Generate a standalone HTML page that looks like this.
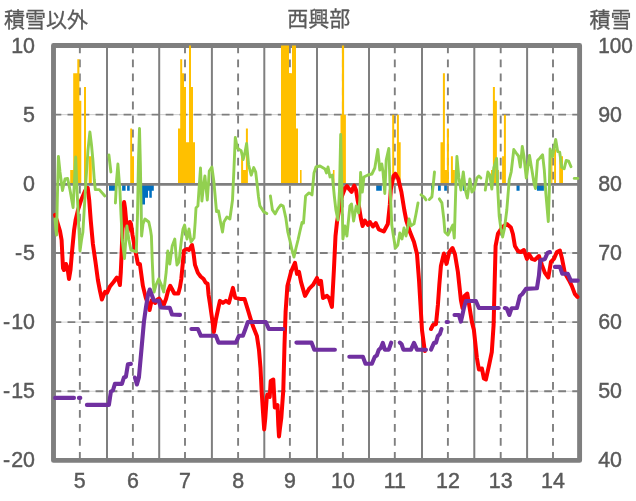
<!DOCTYPE html>
<html lang="ja"><head><meta charset="utf-8"><title>西興部</title>
<style>html,body{margin:0;padding:0;background:#fff}body{width:636px;height:501px;overflow:hidden}svg{display:block}g.t{filter:grayscale(1)}text{font-family:"Liberation Sans","Noto Sans CJK JP",sans-serif;fill:#595959}.n{font-size:22.4px;stroke:#595959;stroke-width:0.45px}.j{font-size:21px;stroke:#595959;stroke-width:0.3px}</style></head><body>
<svg width="636" height="501" viewBox="0 0 636 501">
<rect width="636" height="501" fill="#fff"/>
<rect x="53.5" y="45.5" width="526.1" height="414.9" fill="none" stroke="#7f7f7f" stroke-width="4.9" stroke-linejoin="round"/>
<line x1="55.9" y1="114.65" x2="577.2" y2="114.65" stroke="#cfcfcf" stroke-width="1"/>
<line x1="55.9" y1="183.80" x2="577.2" y2="183.80" stroke="#cfcfcf" stroke-width="1"/>
<line x1="55.9" y1="252.95" x2="577.2" y2="252.95" stroke="#cfcfcf" stroke-width="1"/>
<line x1="55.9" y1="322.10" x2="577.2" y2="322.10" stroke="#cfcfcf" stroke-width="1"/>
<line x1="55.9" y1="391.25" x2="577.2" y2="391.25" stroke="#cfcfcf" stroke-width="1"/>
<line x1="53.5" y1="114.65" x2="579.6" y2="114.65" stroke="#7f7f7f" stroke-width="1.9" stroke-dasharray="7.8 6.22"/>
<line x1="53.5" y1="252.95" x2="579.6" y2="252.95" stroke="#7f7f7f" stroke-width="1.9" stroke-dasharray="7.8 6.22"/>
<line x1="53.5" y1="322.10" x2="579.6" y2="322.10" stroke="#7f7f7f" stroke-width="1.9" stroke-dasharray="7.8 6.22"/>
<line x1="53.5" y1="391.25" x2="579.6" y2="391.25" stroke="#7f7f7f" stroke-width="1.9" stroke-dasharray="7.8 6.22"/>
<line x1="107.00" y1="45.5" x2="107.00" y2="460.4" stroke="#7f7f7f" stroke-width="2"/>
<line x1="159.20" y1="45.5" x2="159.20" y2="460.4" stroke="#7f7f7f" stroke-width="2"/>
<line x1="211.90" y1="45.5" x2="211.90" y2="460.4" stroke="#7f7f7f" stroke-width="2"/>
<line x1="264.30" y1="45.5" x2="264.30" y2="460.4" stroke="#7f7f7f" stroke-width="2"/>
<line x1="317.00" y1="45.5" x2="317.00" y2="460.4" stroke="#7f7f7f" stroke-width="2"/>
<line x1="369.00" y1="45.5" x2="369.00" y2="460.4" stroke="#7f7f7f" stroke-width="2"/>
<line x1="422.00" y1="45.5" x2="422.00" y2="460.4" stroke="#7f7f7f" stroke-width="2"/>
<line x1="474.30" y1="45.5" x2="474.30" y2="460.4" stroke="#7f7f7f" stroke-width="2"/>
<line x1="527.10" y1="45.5" x2="527.10" y2="460.4" stroke="#7f7f7f" stroke-width="2"/>
<line x1="79.85" y1="45.5" x2="79.85" y2="460.4" stroke="#7f7f7f" stroke-width="1.9" stroke-dasharray="7.8 6.22"/>
<line x1="132.90" y1="45.5" x2="132.90" y2="460.4" stroke="#7f7f7f" stroke-width="1.9" stroke-dasharray="7.8 6.22"/>
<line x1="185.00" y1="45.5" x2="185.00" y2="460.4" stroke="#7f7f7f" stroke-width="1.9" stroke-dasharray="7.8 6.22"/>
<line x1="238.10" y1="45.5" x2="238.10" y2="460.4" stroke="#7f7f7f" stroke-width="1.9" stroke-dasharray="7.8 6.22"/>
<line x1="289.90" y1="45.5" x2="289.90" y2="460.4" stroke="#7f7f7f" stroke-width="1.9" stroke-dasharray="7.8 6.22"/>
<line x1="342.90" y1="45.5" x2="342.90" y2="460.4" stroke="#7f7f7f" stroke-width="1.9" stroke-dasharray="7.8 6.22"/>
<line x1="394.80" y1="45.5" x2="394.80" y2="460.4" stroke="#7f7f7f" stroke-width="1.9" stroke-dasharray="7.8 6.22"/>
<line x1="447.90" y1="45.5" x2="447.90" y2="460.4" stroke="#7f7f7f" stroke-width="1.9" stroke-dasharray="7.8 6.22"/>
<line x1="500.70" y1="45.5" x2="500.70" y2="460.4" stroke="#7f7f7f" stroke-width="1.9" stroke-dasharray="7.8 6.22"/>
<line x1="553.00" y1="45.5" x2="553.00" y2="460.4" stroke="#7f7f7f" stroke-width="1.9" stroke-dasharray="7.8 6.22"/>
<path d="M70.2,183.80 L70.2,169.97 L73.2,169.97 L73.2,73.16 L77.3,73.16 L77.3,59.33 L79.4,59.33 L79.4,100.82 L81.3,100.82 L81.3,183.80 Z M84.0,183.80 L84.0,86.99 L86.0,86.99 L86.0,183.80 Z M88.7,183.80 L88.7,156.14 L91.8,156.14 L91.8,183.80 Z M130.2,183.80 L130.2,128.48 L132.1,128.48 L132.1,156.14 L134.0,156.14 L134.0,183.80 Z M178.0,183.80 L178.0,128.48 L180.2,128.48 L180.2,59.33 L182.2,59.33 L182.2,73.16 L184.0,73.16 L184.0,86.99 L186.0,86.99 L186.0,142.31 L189.0,142.31 L189.0,45.50 L191.0,45.50 L191.0,86.99 L193.0,86.99 L193.0,142.31 L195.0,142.31 L195.0,183.80 Z M241.1,183.80 L241.1,156.14 L243.1,156.14 L243.1,169.97 L245.9,169.97 L245.9,128.48 L247.9,128.48 L247.9,183.80 Z M281.0,183.80 L281.0,45.50 L289.0,45.50 L289.0,73.16 L292.0,73.16 L292.0,45.50 L296.0,45.50 L296.0,128.48 L298.0,128.48 L298.0,183.80 Z M300.0,183.80 L300.0,169.97 L301.6,169.97 L301.6,183.80 Z M332.9,183.80 L332.9,169.97 L334.5,169.97 L334.5,183.80 Z M340.5,183.80 L340.5,114.65 L341.9,114.65 L341.9,45.50 L344.1,45.50 L344.1,114.65 L345.9,114.65 L345.9,183.80 Z M392.2,183.80 L392.2,114.65 L394.2,114.65 L394.2,183.80 Z M396.9,183.80 L396.9,114.65 L398.9,114.65 L398.9,142.31 L400.7,142.31 L400.7,183.80 Z M440.5,183.80 L440.5,142.31 L442.9,142.31 L442.9,73.16 L444.9,73.16 L444.9,169.97 L446.9,169.97 L446.9,128.48 L448.9,128.48 L448.9,183.80 Z M450.9,183.80 L450.9,156.14 L452.9,156.14 L452.9,169.97 L454.9,169.97 L454.9,183.80 Z M491.0,183.80 L491.0,169.97 L492.9,169.97 L492.9,86.99 L494.9,86.99 L494.9,100.82 L496.9,100.82 L496.9,169.97 L498.9,169.97 L498.9,183.80 Z M502.1,183.80 L502.1,156.14 L503.9,156.14 L503.9,114.65 L505.9,114.65 L505.9,183.80 Z M551.2,183.80 L551.2,156.14 L552.4,156.14 L552.4,183.80 Z M554.1,183.80 L554.1,149.22 L556.0,149.22 L556.0,183.80 Z M559.2,183.80 L559.2,156.14 L563.0,156.14 L563.0,183.80 Z" fill="#ffc000"/>
<path d="M109.0,183.80 L109.0,190.72 L115.1,190.72 L115.1,183.80 Z M122.1,183.80 L122.1,190.72 L125.6,190.72 L125.6,183.80 Z M127.1,183.80 L127.1,190.72 L129.7,190.72 L129.7,183.80 Z M141.2,183.80 L141.2,218.38 L142.2,218.38 L142.2,204.54 L145.0,204.54 L145.0,197.63 L148.0,197.63 L148.0,190.72 L149.3,190.72 L149.3,197.63 L151.8,197.63 L151.8,190.72 L153.8,190.72 L153.8,183.80 Z M376.2,183.80 L376.2,190.72 L381.8,190.72 L381.8,183.80 Z M431.0,183.80 L431.0,190.72 L433.0,190.72 L433.0,183.80 Z M438.0,183.80 L438.0,190.72 L440.8,190.72 L440.8,183.80 Z M444.2,183.80 L444.2,190.72 L446.9,190.72 L446.9,183.80 Z M462.9,183.80 L462.9,190.72 L464.9,190.72 L464.9,183.80 Z M516.5,183.80 L516.5,190.72 L519.6,190.72 L519.6,183.80 Z M536.9,183.80 L536.9,190.72 L543.9,190.72 L543.9,183.80 Z" fill="#0070c0"/>
<line x1="53.5" y1="184.4" x2="579.6" y2="184.4" stroke="#7f7f7f" stroke-width="2.6"/>
<polyline points="55.0,214.8 57.0,221.0 60.0,231.0 61.6,240.0 63.0,268.0 64.0,270.0 66.0,264.0 67.5,268.0 69.0,279.0 70.5,270.0 72.0,252.0 74.1,230.0 75.6,220.0 78.0,210.0 81.2,200.0 85.2,190.5 87.7,187.8 89.2,200.0 90.7,220.0 92.9,244.0 95.5,262.0 97.9,280.0 100.0,291.0 101.9,299.5 103.3,296.0 105.1,291.8 107.1,292.6 110.1,286.2 113.6,282.0 116.9,277.5 118.5,280.0 119.9,285.0 120.8,272.0 121.5,256.0 122.5,230.0 123.5,208.0 124.1,202.0 125.0,208.0 126.5,225.0 127.5,232.0 128.5,226.0 129.9,222.0 131.0,224.0 132.5,235.0 134.9,248.0 137.9,263.9 139.9,263.9 142.9,285.9 145.8,297.9 148.0,304.0 149.6,310.0 151.6,300.5 153.0,299.5 155.1,303.0 157.5,299.5 159.2,298.6 161.5,302.0 163.7,305.0 166.0,299.0 168.0,291.0 170.2,285.8 172.0,289.0 174.3,293.6 178.3,293.6 180.0,287.0 181.3,279.0 184.0,250.5 187.0,249.0 189.0,250.0 192.0,245.0 193.5,253.0 195.0,264.9 197.9,272.9 200.6,276.5 203.6,279.0 205.6,282.6 207.6,283.8 208.6,295.0 210.0,304.0 212.0,318.0 213.9,332.0 216.0,319.0 217.9,310.0 219.9,300.9 222.9,302.9 225.9,300.9 228.9,302.9 232.9,287.9 235.3,297.9 239.9,298.9 244.5,298.9 247.9,309.9 250.9,319.8 252.9,326.0 256.9,336.0 259.0,350.0 260.5,368.0 261.7,392.0 263.0,412.0 264.2,429.4 265.3,418.0 266.7,398.0 267.4,394.5 269.7,397.0 270.7,381.0 273.3,379.5 274.8,407.5 277.5,405.0 278.3,425.0 279.0,436.4 280.0,428.0 281.3,418.0 283.3,390.0 284.5,345.0 285.6,312.0 287.4,285.9 291.0,271.9 295.0,262.9 297.0,273.9 299.0,271.9 301.0,281.9 305.0,295.9 309.0,288.9 313.0,284.9 317.0,277.9 319.0,283.9 321.0,280.9 323.0,297.9 327.0,295.9 329.0,298.0 331.9,306.9 333.9,270.0 335.5,236.0 337.0,222.0 339.9,206.0 342.0,196.0 344.9,188.5 346.9,186.0 349.5,189.5 351.6,191.8 353.0,188.0 354.2,185.5 356.0,190.0 357.6,200.0 359.4,209.0 361.0,219.0 362.6,226.0 364.9,220.5 367.9,225.0 369.9,222.0 372.9,226.5 375.8,223.0 378.8,229.5 383.8,231.5 387.8,224.0 389.8,205.0 390.8,190.0 393.4,176.0 395.4,173.8 398.3,179.0 401.4,192.0 404.3,210.0 406.4,221.0 410.0,232.0 414.0,242.0 417.0,254.0 419.0,280.0 420.5,305.0 422.0,330.0 424.8,351.0" fill="none" stroke="#ff0000" stroke-width="4.0" stroke-linejoin="round" stroke-linecap="round"/>
<polyline points="431.0,329.0 433.0,325.0 436.0,324.0 437.9,305.0 439.3,285.0 440.9,266.0 443.9,253.5 446.5,263.9 449.3,252.0 452.5,248.0 454.9,254.0 457.9,272.0 460.9,300.0 462.5,308.0 464.5,296.0 467.3,293.5 469.3,306.0 471.9,322.0 473.9,330.0 476.9,358.0 478.9,369.5 481.9,368.5 483.9,378.5 485.9,379.5 488.9,366.0 491.8,352.0 493.6,325.0 494.6,285.0 495.6,246.0 498.0,233.5 502.0,227.5 506.9,224.0 510.9,227.5 512.9,234.0 514.9,246.0 517.9,251.0 520.9,252.0 523.9,250.0 526.9,258.9 528.9,254.0 531.9,258.9 534.9,259.9 538.9,256.0 541.9,264.9 544.9,272.9 548.3,277.5 550.9,262.0 553.9,258.9 556.9,252.0 559.9,250.5 561.9,258.0 564.8,272.9 568.8,279.9 571.8,285.9 574.8,293.9 577.4,296.9" fill="none" stroke="#ff0000" stroke-width="4.0" stroke-linejoin="round" stroke-linecap="round"/>
<polyline points="55.0,219.0 55.8,229.0 56.6,235.0 57.3,200.0 58.4,156.5 60.0,172.0 62.5,190.5 65.0,179.0 67.6,178.5 70.0,190.0 73.1,207.5 74.5,180.0 75.7,157.0 76.8,185.0 78.0,210.0 80.0,251.0 81.5,240.0 82.9,232.0 84.5,205.0 86.0,180.0 88.0,150.0 89.9,132.0 91.5,145.0 92.9,160.0 94.3,180.0 95.3,189.5 99.3,189.6 104.9,196.0" fill="none" stroke="#92d050" stroke-width="2.9" stroke-linejoin="round" stroke-linecap="round"/>
<polyline points="108.9,155.0 110.9,172.0" fill="none" stroke="#92d050" stroke-width="2.9" stroke-linejoin="round" stroke-linecap="round"/>
<polyline points="115.4,203.0 116.6,180.0 117.9,164.0 119.9,190.0 121.0,215.0 122.3,240.0 124.5,258.5 125.8,240.0 126.9,226.0 128.9,240.0 130.9,250.0 133.9,251.0 136.3,252.0 137.5,215.0 138.5,160.0 139.5,128.5 140.4,165.0 141.2,215.0 141.6,236.0 143.0,224.0 144.9,219.0 148.8,222.0 150.5,230.0 151.4,236.0 152.3,262.0 153.2,282.0 154.1,292.0 156.0,285.0 158.7,278.8 161.0,284.0 163.7,292.0 165.0,282.0 166.2,272.0 167.8,251.0 169.8,264.0 172.2,246.0 174.8,239.0 176.0,255.0 177.0,265.0 179.0,262.0 180.3,250.0 181.4,240.0 183.0,229.0 184.6,225.0 187.0,239.0 189.0,229.0 191.0,242.0 194.0,238.0 195.2,222.0 196.0,208.0 197.9,205.9 199.3,185.0 200.5,168.0 201.9,201.0 203.5,186.0 204.9,176.0 207.3,200.0 208.5,183.0 209.3,171.0 211.9,167.0 213.9,182.0 216.5,211.5 218.5,211.0 220.5,222.0 222.5,232.0 223.9,222.0 226.9,217.0 229.9,219.0 232.5,200.0 233.9,170.0 235.3,137.5 237.3,148.0 239.9,150.0 241.1,150.5 243.1,159.5 244.9,153.0 246.6,143.5 248.6,165.0 251.2,175.2 253.7,167.6 255.7,172.2 257.2,185.2 258.5,197.0 259.9,205.9 263.8,211.9 266.8,213.5" fill="none" stroke="#92d050" stroke-width="2.9" stroke-linejoin="round" stroke-linecap="round"/>
<polyline points="270.4,195.9 272.4,209.9 275.2,213.9 277.8,208.9 280.8,204.9 283.2,206.0 285.8,217.9 287.8,232.0 290.0,241.0 292.0,250.0 294.0,257.0 296.0,248.0 298.0,240.0 300.0,231.0 302.0,222.5 303.5,223.0 305.6,196.0 309.0,192.9 312.0,194.9 314.0,173.0 316.0,167.0 320.0,166.0 325.0,169.0 326.5,173.0 328.0,167.0 330.0,177.0 332.3,175.0 334.3,196.0 335.9,210.0 337.9,220.0 339.5,190.0 340.7,134.5 341.9,190.0 342.9,239.0 344.9,226.0 346.9,236.0 348.5,220.0 349.9,206.0 351.5,204.0 353.6,221.0 356.2,206.0 358.6,213.0 359.8,200.0 360.6,172.5 362.3,192.0 363.9,177.0 367.9,175.0 371.9,174.0 374.8,168.0 377.8,149.5 379.8,170.0 381.8,164.0 383.0,172.0 384.8,193.5 386.2,160.0 388.8,148.5 390.2,190.0 391.8,225.0 392.8,232.0 395.4,248.0 397.8,245.0 399.8,233.0 402.0,239.0 404.0,228.0 406.0,236.0 408.0,226.0 409.0,219.0 411.0,225.8 414.0,223.9 416.0,214.0 418.0,203.0" fill="none" stroke="#92d050" stroke-width="2.9" stroke-linejoin="round" stroke-linecap="round"/>
<polyline points="421.0,194.9 424.0,196.9 426.0,199.9" fill="none" stroke="#92d050" stroke-width="2.9" stroke-linejoin="round" stroke-linecap="round"/>
<polyline points="429.3,199.5 431.9,196.9 433.3,184.0 434.5,172.0" fill="none" stroke="#92d050" stroke-width="2.9" stroke-linejoin="round" stroke-linecap="round"/>
<polyline points="439.3,198.9 441.9,202.9 443.9,219.9 444.9,232.0 447.9,235.0 450.9,229.0 452.9,225.0 454.3,238.0 455.0,215.0 455.9,185.0 456.9,156.5 458.9,178.0 460.9,190.0 463.3,172.0 465.3,190.0 467.3,198.0 469.9,179.0 471.9,192.0 473.9,190.0 476.9,178.0 478.9,176.0 480.9,178.0" fill="none" stroke="#92d050" stroke-width="2.9" stroke-linejoin="round" stroke-linecap="round"/>
<polyline points="485.3,190.0 487.9,172.0 489.9,175.0 491.8,189.0 493.8,168.0 496.6,158.5 497.8,190.0 499.2,216.0 500.8,228.0 502.6,237.0 504.4,229.0 506.8,210.0 509.2,180.0 511.2,172.0 513.8,149.5 516.9,154.0 518.5,156.0 520.3,167.0 522.3,146.5 523.9,156.0 526.3,178.0 529.5,155.5 531.9,170.0 534.0,183.0 535.5,188.5 537.5,160.5 539.9,158.0 542.6,154.8 544.3,170.0 545.9,194.0 548.3,221.5 549.3,190.0 550.1,149.0 552.6,156.6 555.7,139.5 557.7,151.5 559.7,152.1 561.7,167.2 564.2,168.7 566.2,160.5 568.7,161.2 571.0,166.7" fill="none" stroke="#92d050" stroke-width="2.9" stroke-linejoin="round" stroke-linecap="round"/>
<polyline points="574.3,178.4 577.8,178.4" fill="none" stroke="#92d050" stroke-width="2.9" stroke-linejoin="round" stroke-linecap="round"/>
<polyline points="55.2,397.9 74.0,397.9" fill="none" stroke="#7030a0" stroke-width="4.1" stroke-linejoin="round" stroke-linecap="round"/>
<polyline points="78.9,397.9 80.3,397.9" fill="none" stroke="#7030a0" stroke-width="4.1" stroke-linejoin="round" stroke-linecap="round"/>
<polyline points="86.9,404.9 108.9,404.9 110.9,391.5 112.9,390.5 114.9,383.9 121.9,383.9 123.9,377.5 125.9,376.8 127.9,364.3 130.9,363.9" fill="none" stroke="#7030a0" stroke-width="4.1" stroke-linejoin="round" stroke-linecap="round"/>
<polyline points="134.9,377.5 136.9,384.5 138.9,377.5 141.4,350.0 143.9,322.0 146.0,307.0 148.0,295.0 149.8,289.5 151.8,295.0 153.8,300.5 158.8,300.9 160.8,307.5 169.8,307.9 172.0,314.5 180.0,314.9" fill="none" stroke="#7030a0" stroke-width="4.1" stroke-linejoin="round" stroke-linecap="round"/>
<polyline points="191.4,329.0 197.9,329.0 200.9,335.8 215.9,335.8 218.5,342.6 235.9,342.6 238.9,335.8 242.9,335.8 245.4,329.0 247.9,322.0 265.8,322.0 268.8,329.0 283.0,329.0" fill="none" stroke="#7030a0" stroke-width="4.1" stroke-linejoin="round" stroke-linecap="round"/>
<polyline points="296.4,342.6 311.5,342.6 314.3,349.7 334.9,349.7" fill="none" stroke="#7030a0" stroke-width="4.1" stroke-linejoin="round" stroke-linecap="round"/>
<polyline points="349.3,356.7 362.9,356.7 365.5,363.7 371.9,363.7 374.8,356.7 376.8,355.5 378.8,349.7 380.8,348.0 382.8,342.9 384.8,349.7 388.8,349.7 391.2,342.6" fill="none" stroke="#7030a0" stroke-width="4.1" stroke-linejoin="round" stroke-linecap="round"/>
<polyline points="399.8,342.6 401.5,344.0 403.4,349.7 411.0,349.7 414.0,342.9 417.0,349.7 426.0,349.7" fill="none" stroke="#7030a0" stroke-width="4.1" stroke-linejoin="round" stroke-linecap="round"/>
<polyline points="431.0,349.7 434.0,342.9 436.0,342.6 437.9,335.9 439.9,334.0 441.5,329.0" fill="none" stroke="#7030a0" stroke-width="4.1" stroke-linejoin="round" stroke-linecap="round"/>
<polyline points="446.6,322.0 448.0,322.0" fill="none" stroke="#7030a0" stroke-width="4.1" stroke-linejoin="round" stroke-linecap="round"/>
<polyline points="454.5,315.0 458.9,315.0 460.9,321.6 462.4,315.0 463.9,308.0 465.9,301.0 475.9,301.0 478.9,308.0 498.8,308.0" fill="none" stroke="#7030a0" stroke-width="4.1" stroke-linejoin="round" stroke-linecap="round"/>
<polyline points="504.8,308.0 506.8,308.5 509.3,315.0 511.6,308.2 516.9,308.0 518.4,302.0 519.9,296.0 522.3,294.0 525.9,288.9 536.9,288.3 538.9,275.9 540.3,260.5 544.9,259.0 547.5,253.0 549.9,252.0" fill="none" stroke="#7030a0" stroke-width="4.1" stroke-linejoin="round" stroke-linecap="round"/>
<polyline points="554.9,266.9 559.9,266.9 562.3,273.7 567.8,273.7 570.8,280.6 577.8,280.6" fill="none" stroke="#7030a0" stroke-width="4.1" stroke-linejoin="round" stroke-linecap="round"/>
<g class="t">
<text class="j" x="4" y="27.0">積雪以外</text>
<text class="j" x="318.8" y="26.3" text-anchor="middle">西興部</text>
<text class="j" x="589.6" y="27.0">積雪</text>
<text class="n" transform="translate(35.0,52.5) scale(0.955,1)" text-anchor="end">10</text>
<text class="n" transform="translate(35.0,121.5) scale(0.955,1)" text-anchor="end">5</text>
<text class="n" transform="translate(35.0,190.5) scale(0.955,1)" text-anchor="end">0</text>
<text class="n" transform="translate(35.0,259.5) scale(0.955,1)" text-anchor="end">-<tspan dx="1.1">5</tspan></text>
<text class="n" transform="translate(35.0,328.5) scale(0.955,1)" text-anchor="end">-<tspan dx="1.1">10</tspan></text>
<text class="n" transform="translate(35.0,397.5) scale(0.955,1)" text-anchor="end">-<tspan dx="1.1">15</tspan></text>
<text class="n" transform="translate(35.0,466.5) scale(0.955,1)" text-anchor="end">-<tspan dx="1.1">20</tspan></text>
<text class="n" transform="translate(598.2,52.5) scale(0.930,1)">100</text>
<text class="n" transform="translate(598.2,121.5) scale(0.955,1)">90</text>
<text class="n" transform="translate(598.2,190.5) scale(0.955,1)">80</text>
<text class="n" transform="translate(598.2,259.5) scale(0.955,1)">70</text>
<text class="n" transform="translate(598.2,328.5) scale(0.955,1)">60</text>
<text class="n" transform="translate(598.2,397.5) scale(0.955,1)">50</text>
<text class="n" transform="translate(598.2,466.5) scale(0.955,1)">40</text>
<text class="n" transform="translate(79.8,487.6) scale(0.955,1)" text-anchor="middle">5</text>
<text class="n" transform="translate(132.9,487.6) scale(0.955,1)" text-anchor="middle">6</text>
<text class="n" transform="translate(185.0,487.6) scale(0.955,1)" text-anchor="middle">7</text>
<text class="n" transform="translate(238.1,487.6) scale(0.955,1)" text-anchor="middle">8</text>
<text class="n" transform="translate(289.9,487.6) scale(0.955,1)" text-anchor="middle">9</text>
<text class="n" transform="translate(342.9,487.6) scale(0.955,1)" text-anchor="middle">10</text>
<text class="n" transform="translate(394.8,487.6) scale(0.955,1)" text-anchor="middle">11</text>
<text class="n" transform="translate(447.9,487.6) scale(0.955,1)" text-anchor="middle">12</text>
<text class="n" transform="translate(500.7,487.6) scale(0.955,1)" text-anchor="middle">13</text>
<text class="n" transform="translate(553.0,487.6) scale(0.955,1)" text-anchor="middle">14</text>
</g>
</svg></body></html>
